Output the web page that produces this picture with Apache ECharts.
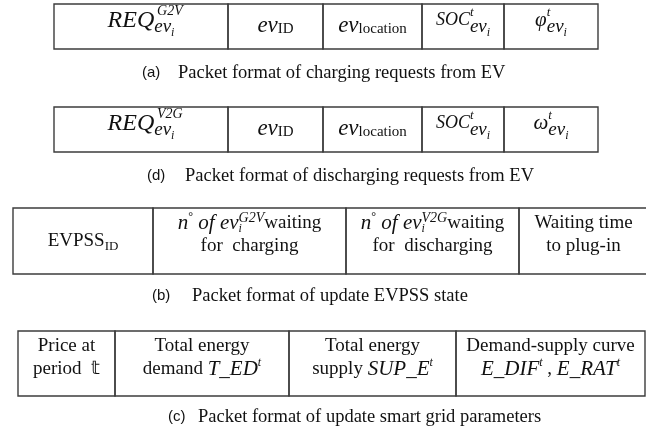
<!DOCTYPE html>
<html><head><meta charset="utf-8">
<script src="https://cdn.jsdelivr.net/npm/echarts@6/dist/echarts.min.js"></script>
<style>html,body{margin:0;padding:0;background:#fff}#c{width:646px;height:434px}</style>
</head><body><div id="c"></div>
<script>
// ---------------- data ----------------
// (a) charging request packet
const rowA = [4, 49];
const edgesA = [54, 228, 323, 422, 504, 598];
const fieldsA = [
  '{M|REQ}{p0|\u2009G2V}{e|ev}{i|i}',
  '{H| }{m|ev}{up|ID}',
  '{H| }{m|ev}{up|location}',
  '{S|SOC}{t0|t}{e|ev}{i|i}',
  '{g|φ}{t0|t}{e|ev}{i|i}'
];
// (d) discharging request packet
const rowD = [107, 152];
const edgesD = [54, 228, 323, 422, 504, 598];
const fieldsD = [
  '{M|REQ}{p0|\u2009V2G}{e|ev}{i|i}',
  '{H| }{m|ev}{up|ID}',
  '{H| }{m|ev}{up|location}',
  '{S|SOC}{t0|t}{e|ev}{i|i}',
  '{g|ω}{t0|t}{e|ev}{i|i}'
];
// (b) EVPSS state packet
const rowB = [208, 274];
const edgesB = [13, 153, 346, 519, 648];
const fieldsB = [
  '{r|EVPSS}{rs|ID}',
  '{n|n}{deg|°}{n| of ev}{bi0|i}{bs|G2V}{r|waiting}\n{r|for  charging}',
  '{n|n}{deg|°}{n| of ev}{bi0|i}{bs|V2G}{r|waiting}\n{r|for  discharging}',
  '{r|Waiting time}\n{r|to plug-in}'
];
// (c) smart grid parameters packet
const rowC = [331, 396];
const edgesC = [18, 115, 289, 456, 645];
const fieldsC = [
  '{r|Price at}\n{r|period  𝕥}',
  '{r|Total energy}\n{r|demand }{n|T_ED}{ts|t}',
  '{r|Total energy}\n{r|supply }{n|SUP_E}{ts|t}',
  '{r|Demand-supply curve}\n{n|E_DIF}{ts|t}{r| , }{n|E_RAT}{ts|t}'
];
const captionTags = ['(a)', '(d)', '(b)', '(c)'];
const captionTexts = [
  'Packet format of charging requests from EV',
  'Packet format of discharging requests from EV',
  'Packet format of update EVPSS state',
  'Packet format of update smart grid parameters'
];

// ---------------- styling ----------------
const SERIF = "'Liberation Serif', 'Times New Roman', serif";
const SANS = "'Liberation Sans', Arial, sans-serif";
const INK = '#111';
const BORDER = '#3c3c3c';
const TABLE_ROWS = [rowA, rowD, rowB, rowC];
const TABLE_EDGES = [edgesA, edgesD, edgesB, edgesC];
const TABLE_FIELDS = [fieldsA, fieldsD, fieldsB, fieldsC];
const CAPTION_LAYOUT = [ // tag x, text x, gap below table
  [142, 178, 24], [147, 185, 24], [152, 192, 22], [168, 198, 21]
];

const it = (size, extra) => Object.assign({fontFamily: SERIF, fontStyle: 'italic', fontSize: size, align: 'left'}, extra || {});
const up = (size, extra) => Object.assign({fontFamily: SERIF, fontSize: size, align: 'left'}, extra || {});
const RICH = {
  // packets a / d (line box 36)
  H: {fontSize: 1, lineHeight: 36, width: 0.01, align: 'left'},
  M: it(24, {lineHeight: 36}),
  S: it(18, {lineHeight: 36}),
  g: it(21, {lineHeight: 36}),
  m: it(23, {lineHeight: 28, verticalAlign: 'bottom', padding: [0, 0, 1, 0]}),
  up: up(15, {lineHeight: 23, verticalAlign: 'bottom', padding: [0, 0, 2, 0]}),
  p0: it(14, {lineHeight: 25, verticalAlign: 'top', width: 0.01, padding: [2, 0, 0, 0]}),
  t0: it(13, {lineHeight: 25, verticalAlign: 'top', width: 0.01, padding: [4, 0, 0, 0]}),
  e: it(19, {lineHeight: 26, verticalAlign: 'bottom', padding: [0, 0, 2, 0]}),
  i: it(12, {lineHeight: 18, verticalAlign: 'bottom'}),
  // packets b / c (line box 24)
  r: up(19, {lineHeight: 24}),
  rs: up(13, {lineHeight: 16, verticalAlign: 'bottom'}),
  n: it(21, {lineHeight: 24}),
  deg: up(12, {lineHeight: 14, verticalAlign: 'top'}),
  bi0: it(12, {lineHeight: 14, verticalAlign: 'bottom', width: 0.01}),
  bs: it(14, {lineHeight: 16, verticalAlign: 'top'}),
  ts: it(12, {lineHeight: 14, verticalAlign: 'top'})
};

// cells built from the arrays
const cellData = [];
TABLE_EDGES.forEach((edges, t) => {
  for (let k = 0; k < edges.length - 1; k++) {
    cellData.push([edges[k], edges[k + 1], TABLE_ROWS[t][0], TABLE_ROWS[t][1], t, k]);
  }
});

function renderCell(params, api) {
  const x0 = api.value(0), x1 = api.value(1), y0 = api.value(2), y1 = api.value(3);
  const t = api.value(4), f = api.value(5);
  const p0 = api.coord([x0, y0]), p1 = api.coord([x1, y1]);
  const children = [{
    type: 'rect',
    shape: {x: p0[0], y: p0[1], width: p1[0] - p0[0], height: p1[1] - p0[1]},
    style: {fill: 'none', stroke: BORDER, lineWidth: 1.4}
  }];
  const lines = TABLE_FIELDS[t][f].split('\n');
  const cx = (p0[0] + p1[0]) / 2;
  lines.forEach((ln, i) => {
    let y;
    if (t < 2) y = p0[1] + 16.5;
    else if (lines.length === 1) y = (p0[1] + p1[1]) / 2;
    else y = p0[1] + 15 + i * 23;
    children.push({
      type: 'text',
      style: {text: ln, rich: RICH, x: cx, y: y, align: 'center', verticalAlign: 'middle',
              fill: INK, fontFamily: SERIF, fontSize: 19}
    });
  });
  return {type: 'group', children};
}

const graphics = [];
captionTexts.forEach((txt, k) => {
  const [tagX, textX, gap] = CAPTION_LAYOUT[k];
  const y = TABLE_ROWS[k][1] + gap;
  graphics.push({type: 'text', x: tagX, y: y, style: {text: captionTags[k], fill: INK,
    font: '15px ' + SANS, verticalAlign: 'middle'}});
  graphics.push({type: 'text', x: textX, y: y, style: {text: txt, fill: INK,
    font: '18.5px ' + SERIF, verticalAlign: 'middle'}});
});

const chart = echarts.init(document.getElementById('c'), null, {renderer: 'canvas'});
chart.setOption({
  animation: false,
  backgroundColor: '#fff',
  grid: {left: 0, right: 0, top: 0, bottom: 0},
  xAxis: {type: 'value', min: 0, max: 646, show: false},
  yAxis: {type: 'value', min: 0, max: 434, inverse: true, show: false},
  series: [{type: 'custom', renderItem: renderCell, data: cellData, clip: false}],
  graphic: graphics
});
</script></body></html>
